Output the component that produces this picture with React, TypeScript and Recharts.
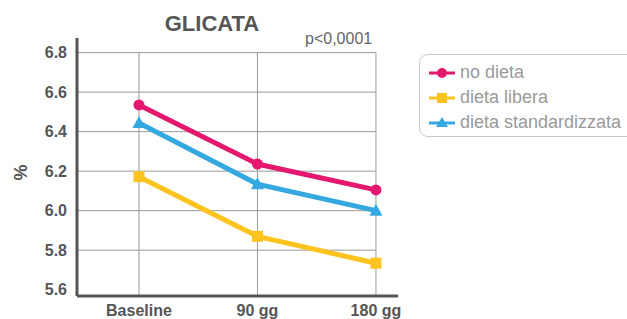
import React from 'react';
import { LineChart, Line, XAxis, YAxis, ReferenceLine } from 'recharts';

const categories = ['Baseline', '90 gg', '180 gg'];
const noDieta = [6.535, 6.236, 6.105];
const dietaLibera = [6.172, 5.87, 5.734];
const dietaStandard = [6.444, 6.134, 6.0];
const yTicks = [5.6, 5.8, 6.0, 6.2, 6.4, 6.6, 6.8];
const gridY = [5.8, 6.0, 6.2, 6.4, 6.6, 6.8];

const PINK = '#e5186f';
const YELLOW = '#fdc41f';
const BLUE = '#35a8e0';
const TEXT = '#555555';
const GRID = '#9a9a9a';
const FONT = '"Liberation Sans", Arial, sans-serif';

const X_MIN = -0.523;
const X_MAX = 2.186;
const Y_MIN = 5.568;
const Y_MAX = 6.874;

const data = categories.map((name, i) => ({
  x: i,
  name,
  noDieta: noDieta[i],
  dietaLibera: dietaLibera[i],
  dietaStandard: dietaStandard[i],
}));

const CircleDot = (p: any) => <circle key={`c${p.index}`} cx={p.cx} cy={p.cy} r={5.5} fill={PINK} />;
const SquareDot = (p: any) => <rect key={`s${p.index}`} x={p.cx - 5.5} y={p.cy - 5.5} width={11} height={11} fill={YELLOW} />;
const TriDot = (p: any) => (
  <polygon key={`t${p.index}`} points={`${p.cx},${p.cy - 7} ${p.cx + 6.5},${p.cy + 5} ${p.cx - 6.5},${p.cy + 5}`} fill={BLUE} />
);

const legendItems = [
  { label: 'no dieta', color: PINK, shape: 'circle' },
  { label: 'dieta libera', color: YELLOW, shape: 'square' },
  { label: 'dieta standardizzata', color: BLUE, shape: 'triangle' },
];

const LegendIcon = ({ color, shape }: { color: string; shape: string }) => (
  <svg width={28} height={14} style={{ marginRight: 4 }}>
    <line x1={1} y1={7} x2={27} y2={7} stroke={color} strokeWidth={3} />
    {shape === 'circle' && <circle cx={14} cy={7} r={5} fill={color} />}
    {shape === 'square' && <rect x={9} y={2} width={10} height={10} fill={color} />}
    {shape === 'triangle' && <polygon points="14,1 20,11 8,11" fill={color} />}
  </svg>
);

export default function App() {
  return (
    <div style={{ position: 'absolute', left: 0, top: 0, width: 627, height: 319, background: '#fff', fontFamily: FONT }}>
      <div style={{ position: 'absolute', left: 0, width: 424, top: 11, textAlign: 'center', fontSize: 22, fontWeight: 700, color: TEXT }}>
        GLICATA
      </div>
      <div style={{ position: 'absolute', left: 305, top: 30, fontSize: 16, color: '#666' }}>p&lt;0,0001</div>
      <div style={{ position: 'absolute', left: 13, top: 162, fontSize: 18, fontWeight: 700, color: TEXT, transform: 'rotate(-90deg)', transformOrigin: 'center' }}>
        %
      </div>
      <LineChart width={627} height={319} data={data} margin={{ top: 38, right: 229, bottom: 0, left: 0 }}>
        <XAxis
          dataKey="x"
          type="number"
          height={23}
          domain={[X_MIN, X_MAX]}
          ticks={[0, 1, 2]}
          tickFormatter={(v: number) => categories[v]}
          axisLine={{ stroke: TEXT, strokeWidth: 3 }}
          tickLine={false}
          tickSize={0}
          tickMargin={9}
          tick={{ fontSize: 16, fontWeight: 700, fill: TEXT, fontFamily: FONT }}
          allowDataOverflow
        />
        <YAxis
          type="number"
          domain={[Y_MIN, Y_MAX]}
          ticks={yTicks}
          width={77}
          tickFormatter={(v: number) => v.toFixed(1)}
          axisLine={{ stroke: TEXT, strokeWidth: 3 }}
          tickLine={false}
          tickSize={0}
          tickMargin={10}
          tick={{ fontSize: 16, fontWeight: 700, fill: TEXT, fontFamily: FONT }}
          allowDataOverflow
        />
        {gridY.map((y) => (
          <ReferenceLine key={`h${y}`} segment={[{ x: X_MIN, y }, { x: 2, y }]} stroke={GRID} strokeWidth={1} />
        ))}
        {[0, 1, 2].map((x) => (
          <ReferenceLine key={`v${x}`} segment={[{ x, y: Y_MIN }, { x, y: 6.8 }]} stroke={GRID} strokeWidth={1} />
        ))}
        <Line dataKey="dietaLibera" stroke={YELLOW} strokeWidth={5} dot={SquareDot} isAnimationActive={false} />
        <Line dataKey="dietaStandard" stroke={BLUE} strokeWidth={5} dot={TriDot} isAnimationActive={false} />
        <Line dataKey="noDieta" stroke={PINK} strokeWidth={5} dot={CircleDot} isAnimationActive={false} />
      </LineChart>
      <div
        style={{
          position: 'absolute',
          left: 419,
          top: 54,
          width: 230,
          height: 83,
          border: '1px solid #c8c8c8',
          borderRadius: 9,
          boxSizing: 'border-box',
          padding: '5px 0 0 8px',
          fontFamily: '"Liberation Sans Narrow", "Liberation Sans", sans-serif',
          fontSize: 18,
          color: '#9a9a9a',
          lineHeight: '25px',
        }}
      >
        {legendItems.map((it) => (
          <div key={it.label} style={{ display: 'flex', alignItems: 'center', height: 25 }}>
            <LegendIcon color={it.color} shape={it.shape} />
            <span>{it.label}</span>
          </div>
        ))}
      </div>
    </div>
  );
}
